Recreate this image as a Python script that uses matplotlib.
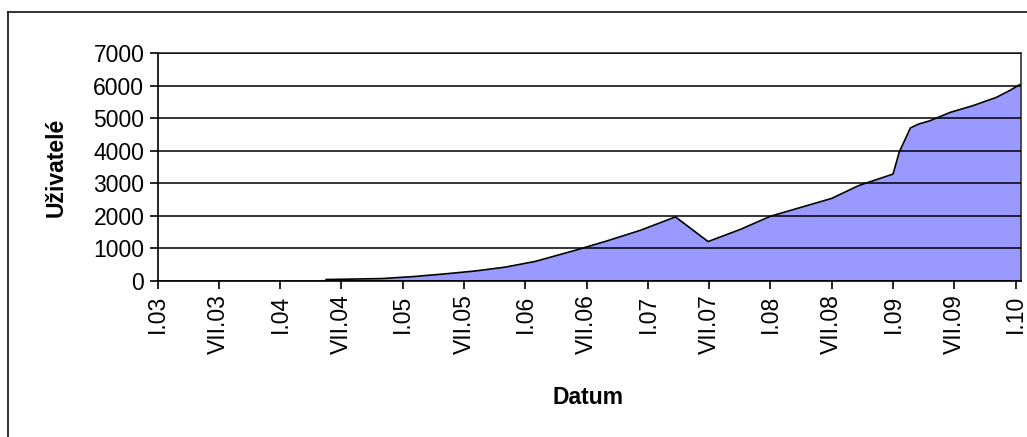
import matplotlib
matplotlib.use("Agg")
import matplotlib.pyplot as plt
from matplotlib.lines import Line2D

plt.rcParams['font.family'] = ['Liberation Sans', 'DejaVu Sans']

# months counted from January 2003, user counts
months = [16.5, 22.0, 25.0, 28.0, 31.0, 34.0, 37.0, 41.0, 44.0, 47.3, 50.7,
          53.9, 57.1, 60.0, 66.0, 68.6, 72.0, 72.6, 73.7, 74.5, 75.6, 77.6,
          79.8, 82.1, 83.4, 84.5]
users = [30, 60, 120, 200, 290, 410, 590, 940, 1220, 1550, 1960,
         1200, 1580, 1980, 2530, 2920, 3280, 3950, 4700, 4820, 4920, 5180,
         5385, 5640, 5850, 6050]

tick_months = [0, 6, 12, 18, 24, 30, 36, 42, 48, 54, 60, 66, 72, 78, 84]
tick_labels = ['I.03', 'VII.03', 'I.04', 'VII.04', 'I.05', 'VII.05', 'I.06',
               'VII.06', 'I.07', 'VII.07', 'I.08', 'VII.08', 'I.09', 'VII.09', 'I.10']
y_ticks = [0, 1000, 2000, 3000, 4000, 5000, 6000, 7000]

fig = plt.figure(figsize=(10.27, 4.37), dpi=100)
ax = fig.add_axes([0.1534, 0.3581, 0.8405, 0.5199])

ax.fill_between(months, users, 0, color='#9999ff', linewidth=0)
ax.plot(months, users, color='black', linewidth=1.2)

ax.set_xlim(0, 84.5)
ax.set_ylim(0, 7000)
ax.set_yticks(y_ticks)
ax.set_xticks(tick_months)
ax.set_xticklabels(tick_labels, rotation=90)
ax.tick_params(axis='both', labelsize=16.5, length=6, width=1.2, direction='out')
ax.tick_params(axis='x', pad=4)
ax.grid(axis='y', color='black', linewidth=1.1)
ax.set_axisbelow(False)
for s in ax.spines.values():
    s.set_linewidth(1.2)
ax.spines['top'].set_color('#333333')
ax.spines['right'].set_color('#333333')

ax.set_ylabel('Uživatelé', fontsize=16.5, fontweight='bold')
ax.yaxis.set_label_coords(-0.104, 0.5)
ax.set_xlabel('Datum', fontsize=16.5, fontweight='bold')
ax.xaxis.set_label_coords(0.499, -0.465)

# outer chart frame (left and top edges)
fig.add_artist(Line2D([0.0078, 0.0078], [0.0, 0.9725], color='#222222', linewidth=1.3))
fig.add_artist(Line2D([0.0078, 1.0], [0.9725, 0.9725], color='#222222', linewidth=1.3))

fig.savefig('out.png', dpi=100)
